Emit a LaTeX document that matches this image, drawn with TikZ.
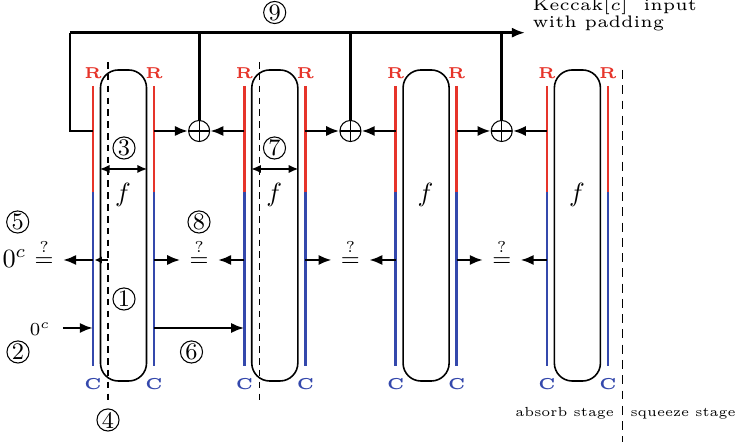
\documentclass[tikz,border=0pt]{standalone}
\usetikzlibrary{arrows.meta,calc}
\definecolor{kred}{RGB}{230,52,42}
\definecolor{kblue}{RGB}{52,72,172}
\newcommand{\lbl}[1]{\scalebox{1.2}{\tiny\bfseries #1}}
\tikzset{
  thk/.style={line width=1.05pt},
  arr/.style={line width=1.05pt,-{Latex[length=5pt,width=3.9pt]}},
  sarr/.style={line width=0.8pt,-{Latex[length=2.8pt,width=2.8pt]}},
  darr/.style={line width=0.9pt,{Latex[length=3.8pt,width=3.2pt]}-{Latex[length=3.8pt,width=3.2pt]}},
  rline/.style={line width=1.05pt,kred},
  bline/.style={line width=1.05pt,kblue},
  fbox/.style={draw,line width=0.6pt,rounded corners=6.8pt,minimum width=17.5pt,minimum height=118.2pt,inner sep=0pt},
  dsh/.style={line width=0.5pt,dash pattern=on 2.5pt off 2pt},
  dshl/.style={line width=0.5pt,dash pattern=on 3.4pt off 2.4pt},
  xor/.style={circle,draw,line width=0.4pt,minimum size=8pt,inner sep=0pt,
    path picture={\draw[line width=0.4pt] (path picture bounding box.north) -- (path picture bounding box.south)
      (path picture bounding box.west) -- (path picture bounding box.east);}},
  qeq/.style={anchor=base,font=\small},
  cnum/.style={circle,draw,line width=0.4pt,minimum size=8.4pt,inner sep=0pt,font=\small},
  rlab/.style={text=kred,inner sep=0pt},
  clab/.style={text=kblue,inner sep=0pt},
  small text/.style={inner sep=0pt,font=\tiny},
}
\begin{document}
\begin{tikzpicture}[x=0.38pt,y=-0.38pt]
\useasboundingbox (0,0) rectangle (738,442);
% horizontal levels
\coordinate (yT) at (0,32.7);
\coordinate (yA) at (0,131);
\coordinate (yD) at (0,169);
\coordinate (yQ) at (0,260);
\coordinate (yZ) at (0,328);
\coordinate (yRt) at (0,86);
\coordinate (yM) at (0,192);
\coordinate (yCb) at (0,366);
% blocks
\foreach \k/\xl in {1/93,2/244.3,3/395.6,4/546.9}{
  \coordinate (L\k) at (\xl,0);
  \coordinate (R\k) at (\xl+61,0);
  \node[fbox] (B\k) at (\xl+30.5,225.5) {};
  \node (F\k) at (\xl+30,195) {$f$};
  \draw[rline] (L\k |- yRt) -- (L\k |- yM);
  \draw[bline] (L\k |- yM) -- (L\k |- yCb);
  \draw[rline] (R\k |- yRt) -- (R\k |- yM);
  \draw[bline] (R\k |- yM) -- (R\k |- yCb);
  \node[rlab] (RL\k) at (\xl,73) {\lbl{R}};
  \node[rlab] (RR\k) at (\xl+61,73) {\lbl{R}};
  \node[clab] (CL\k) at (\xl,384) {\lbl{C}};
  \node[clab] (CR\k) at (\xl+61,384) {\lbl{C}};
}
% dashed lines
\coordinate (D1t) at (108,62);   \coordinate (D1b) at (108,403);
\coordinate (D2t) at (259.3,62); \coordinate (D2b) at (259.3,403);
\coordinate (D3t) at (622.7,70); \coordinate (D3b) at (622.7,442);
\draw[dsh] (D1t) -- (D1b);
\draw[dsh] (D2t) -- (D2b);
\draw[dshl] (D3t) -- (D3b);
% xor nodes
\node[xor] (X1) at (199.15,131) {};
\node[xor] (X2) at (350.45,131) {};
\node[xor] (X3) at (501.75,131) {};
% top input line
\coordinate (tl) at (70,32.7);
\coordinate (te) at (525,32.7);
\draw[arr] (tl) -- (te);
\draw[thk] (tl) -- (tl |- yA) -- (L1 |- yA);
\foreach \i in {1,2,3}{\draw[thk] (X\i |- yT) -- (X\i);}
\node[anchor=west,inner sep=0pt] (kin) at (532,15)
  {\scalebox{1.27}{\tiny\def\arraystretch{0.8}\begin{tabular}{@{}l@{}}Keccak[$c$]\ \ input\\with padding\end{tabular}}};
% arrows into xors
\draw[arr] (R1 |- yA) -- (X1);
\draw[arr] (L2 |- yA) -- (X1);
\draw[arr] (R2 |- yA) -- (X2);
\draw[arr] (L3 |- yA) -- (X2);
\draw[arr] (R3 |- yA) -- (X3);
\draw[arr] (L4 |- yA) -- (X3);
% width arrows
\draw[darr] (B1.west |- yD) -- (B1.east |- yD);
\draw[darr] (B2.west |- yD) -- (B2.east |- yD);
% comparisons
\node[qeq] (Q0) at (44.2,266.5) {$\stackrel{?}{=}$};
\node[anchor=base] (Z0) at (14.5,267.5) {$0^c$};
\node[qeq] (Q1) at (199.15,266.5) {$\stackrel{?}{=}$};
\node[qeq] (Q2) at (350.45,266.5) {$\stackrel{?}{=}$};
\node[qeq] (Q3) at (501.75,266.5) {$\stackrel{?}{=}$};
\draw[sarr,shorten >=0.6pt] (D1t |- yQ) -- (L1 |- yQ);
\draw[arr] (L1 |- yQ) -- (Q0.east |- yQ);
\draw[arr] (R1 |- yQ) -- (Q1.west |- yQ);
\draw[arr] (L2 |- yQ) -- (Q1.east |- yQ);
\draw[arr] (R2 |- yQ) -- (Q2.west |- yQ);
\draw[arr] (L3 |- yQ) -- (Q2.east |- yQ);
\draw[arr] (R3 |- yQ) -- (Q3.west |- yQ);
\draw[arr] (L4 |- yQ) -- (Q3.east |- yQ);
% zero input
\node[anchor=base,font=\scriptsize] (Z1) at (40,336) {$0^c$};
\coordinate (zs) at (63,328);
\draw[arr] (zs) -- (L1 |- zs);
\draw[arr] (R1 |- yZ) -- (L2 |- yZ);
% circled numbers
\node[cnum] (n1) at (124,299) {1};
\node[cnum] (n2) at (18,352) {2};
\node[cnum] (n3) at (124,148) {3};
\node[cnum] (n4) at (108,420) {4};
\node[cnum] (n5) at (17.7,222) {5};
\node[cnum] (n6) at (191.5,352) {6};
\node[cnum] (n7) at (274.5,148) {7};
\node[cnum] (n8) at (199,222) {8};
\node[cnum] (n9) at (274.7,12.5) {9};
% stage labels
\node[small text,anchor=base east] (abs) at (614.5,417) {absorb stage};
\node[small text,anchor=base west] (sqz) at (630,417) {squeeze stage};
\end{tikzpicture}
\end{document}
